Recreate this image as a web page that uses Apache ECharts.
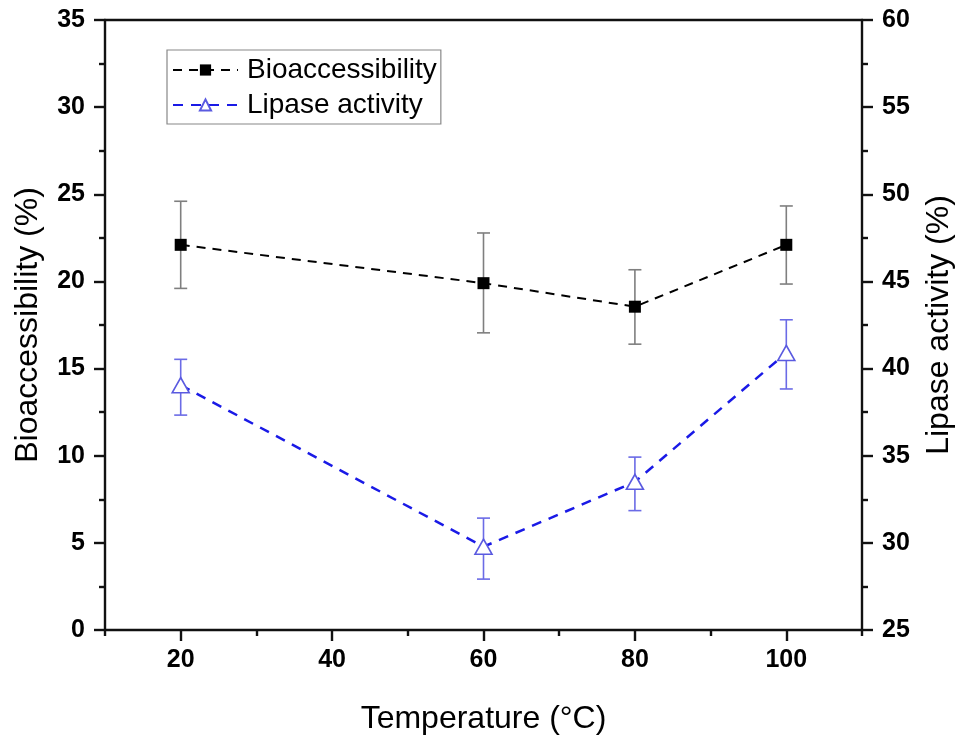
<!DOCTYPE html>
<html>
<head>
<meta charset="utf-8">
<script src="https://cdn.jsdelivr.net/npm/echarts@6/dist/echarts.min.js"></script>
<style>
html,body{margin:0;padding:0;background:#fff;}
#chart{width:956px;height:736px;}
</style>
</head>
<body>
<div id="chart"></div>
<script>
// ---- data ----
const temperatures = [20, 60, 80, 100];
const bioMean = [22.1, 19.9, 18.55, 22.1];
const bioLow  = [19.6, 17.05, 16.4, 19.85];
const bioHigh = [24.6, 22.78, 20.67, 24.33];
const lipMean = [39.05, 29.78, 33.5, 40.9];
const lipLow  = [37.33, 27.92, 31.85, 38.83];
const lipHigh = [40.53, 31.42, 34.92, 42.8];
const xMajorTicks = [20, 40, 60, 80, 100];
const xMinorTicks = [10, 30, 50, 70, 90, 110];
const seriesNames = ['Bioaccessibility', 'Lipase activity'];
const axisTitles = {x: 'Temperature (\u00B0C)', yLeft: 'Bioaccessibility (%)', yRight: 'Lipase activity (%)'};

const FONT = '"Liberation Sans", Arial, sans-serif';

function pts(x, y) { return x.map((v, i) => [v, y[i]]); }
function errData(x, lo, hi) { return x.map((v, i) => [v, lo[i], hi[i]]); }

function errRender(color) {
  return function (params, api) {
    const x = api.value(0);
    const lo = api.coord([x, api.value(1)]);
    const hi = api.coord([x, api.value(2)]);
    const cap = 6.5;
    const style = {stroke: color, lineWidth: 1.6};
    return {
      type: 'group',
      children: [
        {type: 'line', shape: {x1: lo[0], y1: lo[1], x2: hi[0], y2: hi[1]}, style: style},
        {type: 'line', shape: {x1: lo[0] - cap, y1: lo[1], x2: lo[0] + cap, y2: lo[1]}, style: style},
        {type: 'line', shape: {x1: hi[0] - cap, y1: hi[1], x2: hi[0] + cap, y2: hi[1]}, style: style}
      ]
    };
  };
}

const tickLabelStyle = {color: '#000', fontFamily: FONT, fontWeight: 'bold', fontSize: 25};
const nameStyle = {color: '#000', fontFamily: FONT, fontSize: 32};
const axisLineStyle = {color: '#111', width: 2.4};
const majorTick = {show: true, length: 11, lineStyle: {color: '#111', width: 2.4}};
const minorTickStyle = {show: true, splitNumber: 2, length: 6, lineStyle: {color: '#111', width: 2.4}};

const chart = echarts.init(document.getElementById('chart'));
chart.setOption({
  animation: false,
  backgroundColor: '#fff',
  grid: {left: 105, right: 94, top: 20, bottom: 106, containLabel: false, outerBoundsMode: 'none'},
  legend: {
    data: seriesNames,
    orient: 'vertical',
    left: 167, top: 50,
    padding: [6, 4, 5, 5],
    borderColor: '#888', borderWidth: 1.2,
    itemWidth: 65, itemHeight: 14, itemGap: 7,
    textStyle: {color: '#000', fontFamily: FONT, fontSize: 28, padding: [0, 0, 0, 4]}
  },
  xAxis: [
    {
      type: 'value', min: 10, max: 110,
      name: axisTitles.x, nameLocation: 'middle', nameGap: 73, nameTextStyle: nameStyle,
      axisLine: {show: true, onZero: false, lineStyle: axisLineStyle},
      axisTick: {...majorTick, customValues: xMajorTicks},
      axisLabel: {customValues: xMajorTicks, margin: 18, ...tickLabelStyle},
      splitLine: {show: false}
    },
    {
      type: 'value', min: 10, max: 110, position: 'bottom',
      axisLine: {show: false},
      axisTick: {show: true, customValues: xMinorTicks, length: 6, lineStyle: {color: '#111', width: 2.4}},
      axisLabel: {show: false},
      splitLine: {show: false}
    },
    {
      type: 'value', min: 10, max: 110, position: 'top',
      axisLine: {show: true, onZero: false, lineStyle: axisLineStyle},
      axisTick: {show: false},
      axisLabel: {show: false},
      splitLine: {show: false}
    }
  ],
  yAxis: [
    {
      type: 'value', min: 0, max: 35, interval: 5, position: 'left',
      name: axisTitles.yLeft, nameLocation: 'middle', nameGap: 61, nameRotate: 90, nameTextStyle: nameStyle,
      axisLine: {show: true, onZero: false, lineStyle: axisLineStyle},
      axisTick: majorTick,
      minorTick: minorTickStyle,
      axisLabel: {margin: 20, ...tickLabelStyle},
      splitLine: {show: false}
    },
    {
      type: 'value', min: 25, max: 60, interval: 5, position: 'right',
      name: axisTitles.yRight, nameLocation: 'middle', nameGap: 61, nameRotate: 90, nameTextStyle: nameStyle,
      axisLine: {show: true, onZero: false, lineStyle: axisLineStyle},
      axisTick: majorTick,
      minorTick: minorTickStyle,
      axisLabel: {margin: 20, ...tickLabelStyle},
      splitLine: {show: false}
    }
  ],
  series: [
    {
      name: 'bioErr', type: 'custom', xAxisIndex: 0, yAxisIndex: 0,
      renderItem: errRender('#7f7f7f'), data: errData(temperatures, bioLow, bioHigh), z: 1, silent: true
    },
    {
      name: 'lipErr', type: 'custom', xAxisIndex: 0, yAxisIndex: 1,
      renderItem: errRender('#6b6be6'), data: errData(temperatures, lipLow, lipHigh), z: 1, silent: true
    },
    {
      name: seriesNames[0], type: 'line', xAxisIndex: 0, yAxisIndex: 0,
      data: pts(temperatures, bioMean),
      symbol: 'rect', symbolSize: 12, showAllSymbol: true,
      lineStyle: {color: '#000', width: 2, type: [9, 7]},
      itemStyle: {color: '#000', borderColor: '#000', borderWidth: 0},
      z: 3
    },
    {
      name: seriesNames[1], type: 'line', xAxisIndex: 0, yAxisIndex: 1,
      data: pts(temperatures, lipMean),
      symbol: 'triangle', symbolSize: [17, 15], showAllSymbol: true,
      lineStyle: {color: '#1a1ae6', width: 2.5, type: [10, 8]},
      itemStyle: {color: '#fff', borderColor: '#5a5ae0', borderWidth: 1.6},
      z: 3
    }
  ]
});
</script>
</body>
</html>
